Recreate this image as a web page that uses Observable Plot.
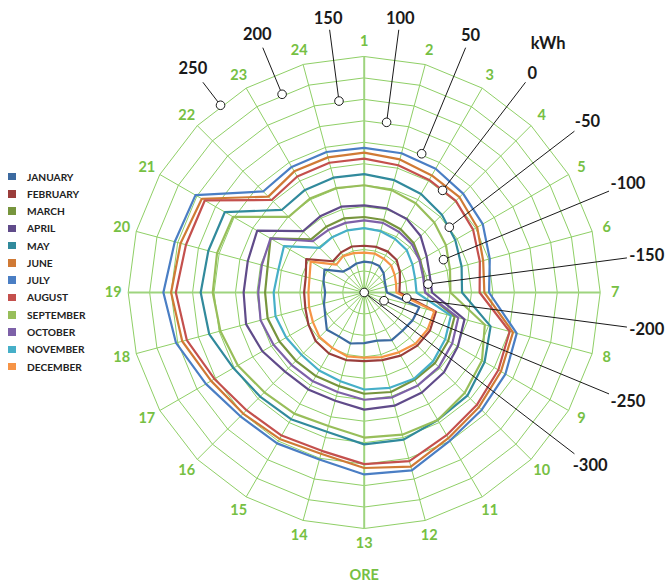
<!DOCTYPE html>
<html><head><meta charset="utf-8">
<script src="https://cdn.jsdelivr.net/npm/d3@7"></script>
<script src="https://cdn.jsdelivr.net/npm/@observablehq/plot@0.6"></script>
<style>
html,body{margin:0;padding:0;background:#fff;}
#wrap{position:relative;width:668px;height:585px;overflow:hidden;}
#legend{position:absolute;left:8px;top:168px;font-family:Lato,"Open Sans",sans-serif;font-weight:bold;font-size:10.2px;color:#222;}
#legend .row{display:flex;align-items:center;height:17.27px;}
#legend .sw{width:7.5px;height:7.5px;margin-right:11.5px;flex:none;}
</style></head><body>
<div id="wrap"><div id="chart"></div><div id="legend"></div></div>
<script>
// ---- data ----
const hours = d3.range(1, 25);
const months = ["JANUARY","FEBRUARY","MARCH","APRIL","MAY","JUNE","JULY","AUGUST","SEPTEMBER","OCTOBER","NOVEMBER","DECEMBER"];
const JANUARY   = [-228,-228,-229,-236,-245,-248,-247,-167,-170,-174,-172,-184,-182,-177,-182,-177,-195,-203,-209,-202,-193,-231,-234,-230];
const FEBRUARY  = [-191,-190,-190,-193,-204,-214,-218,-127,-123,-125,-130,-137,-140,-137,-136,-140,-150,-158,-160,-159,-144,-197,-192,-189];
const MARCH     = [-124,-125,-130,-137,-149,-156,-158,-82,-74,-67,-65,-60,-64,-74,-75,-75,-72,-67,-69,-67,-48,-125,-123,-121];
const APRIL     = [-97,-97,-102,-114,-132,-142,-142,-58,-48,-37,-31,-27,-27,-39,-39,-39,-26,-15,-19,-19,-12,-98,-95,-93];
const MAY       = [-24,-29,-35,-44,-55,-65,-72,5,24,40,43,55,54,36,41,43,52,74,81,76,75,-28,-24,-23];
const JUNE      = [26,21,15,14,4,-13,-20,59,68,78,92,120,109,89,94,99,112,139,150,143,137,16,26,26];
const JULY      = [37,36,33,26,19,3,-9,68,80,87,99,129,124,103,106,108,126,154,168,157,154,33,38,39];
const AUGUST    = [12,7,3,2,-7,-21,-31,51,61,71,84,107,100,82,85,88,103,128,139,130,129,5,12,13];
const SEPTEMBER = [-50,-53,-60,-69,-80,-93,-99,-9,17,31,43,43,38,22,26,29,40,47,53,55,53,-51,-47,-48];
const OCTOBER   = [-132,-132,-137,-142,-151,-158,-158,-73,-63,-54,-50,-47,-50,-60,-61,-61,-56,-50,-53,-53,-48,-131,-132,-132];
const NOVEMBER  = [-150,-152,-156,-160,-170,-177,-178,-91,-82,-73,-68,-70,-74,-86,-90,-94,-90,-86,-89,-93,-84,-153,-151,-150];
const DECEMBER  = [-207,-206,-209,-211,-218,-223,-225,-131,-129,-131,-139,-144,-148,-146,-151,-153,-162,-167,-170,-168,-156,-208,-202,-205];
const tickValues = [250,200,150,100,50,0,-50,-100,-150,-200,-250,-300];
const colors = ["#3C6AA0","#9A3D3B","#77953D","#604B8A","#318A9C","#D07A35","#4A7EC4","#C4504D","#98BE5A","#7D61A8","#46AFC8","#F69446"];
const seriesValues = [JANUARY,FEBRUARY,MARCH,APRIL,MAY,JUNE,JULY,AUGUST,SEPTEMBER,OCTOBER,NOVEMBER,DECEMBER];

// ---- geometry helpers ----
const W = 668, H = 585, CX = 363.7, CY = 292;
const R = d3.scaleLinear().domain([-300, 250]).range([0, 236]);
const rad = deg => deg * Math.PI / 180;
const hourAngle = h => (h - 1) * 15;
const px = (r, deg) => r * Math.sin(rad(deg));
const py = (r, deg) => r * Math.cos(rad(deg));
const outer = R(250);

const points = months.flatMap((m, i) => seriesValues[i].map((v, j) => ({month: m, hour: hours[j], value: v})));
const ringVals = tickValues.filter(t => t > -300);
const rings = ringVals.flatMap(t => hours.map(h => ({t, h})));
const axisHours = new Set([1, 7, 13, 19]);

const ticks = tickValues.map((t, i) => ({t, deg: -37.5 + 15 * i}));
const leadEnd = 265;
const labelDist = d => {
  const s = String(d.t);
  const w = s.replace("-", "").length * 8.6 + (s.includes("-") ? 5 : 0);
  const ext = Math.abs(Math.sin(rad(d.deg))) * w / 2 + Math.abs(Math.cos(rad(d.deg))) * 5.8;
  return leadEnd + 4 + ext;
};
const kwhTick = ticks.find(d => d.t === 0);

const grid = "#8fcf66";
const chart = Plot.plot({
  width: W, height: H, margin: 0,
  style: {fontFamily: "Lato, 'Open Sans', sans-serif", background: "#fff"},
  x: {domain: [-CX, W - CX], axis: null},
  y: {domain: [-(H - CY), CY], axis: null},
  color: {domain: months, range: colors},
  marks: [
    Plot.line(rings, {x: d => px(R(d.t), hourAngle(d.h)), y: d => py(R(d.t), hourAngle(d.h)), z: "t", stroke: grid, strokeWidth: 1, curve: "linear-closed"}),
    Plot.link(hours.filter(h => !axisHours.has(h)), {x1: 0, y1: 0, x2: h => px(outer, hourAngle(h)), y2: h => py(outer, hourAngle(h)), stroke: grid, strokeWidth: 1}),
    Plot.link(hours.filter(h => axisHours.has(h)), {x1: 0, y1: 0, x2: h => px(outer, hourAngle(h)), y2: h => py(outer, hourAngle(h)), stroke: "#9ed47e", strokeWidth: 2}),
    Plot.line(points, {x: d => px(R(d.value), hourAngle(d.hour)), y: d => py(R(d.value), hourAngle(d.hour)), z: "month", stroke: "month", strokeWidth: 2.2, curve: "linear-closed"}),
    Plot.link(ticks, {x1: d => px(R(d.t), d.deg), y1: d => py(R(d.t), d.deg), x2: d => px(leadEnd, d.deg), y2: d => py(leadEnd, d.deg), stroke: "#1a1a1a", strokeWidth: 1}),
    Plot.dot(ticks, {x: d => px(R(d.t), d.deg), y: d => py(R(d.t), d.deg), r: 4.3, fill: "white", stroke: "#1a1a1a", strokeWidth: 1}),
    Plot.text(ticks, {x: d => px(labelDist(d), d.deg), y: d => py(labelDist(d), d.deg), text: d => String(d.t), fontSize: 16.5, fontWeight: "bold", fill: "#1a1a1a"}),
    Plot.text([kwhTick], {x: d => px(labelDist(d) + 33, d.deg - 1), y: d => py(labelDist(d) + 33, d.deg - 1), text: () => "kWh", fontSize: 16.5, fontWeight: "bold", fill: "#1a1a1a"}),
    Plot.text(hours, {x: h => px(outer + 15, hourAngle(h)), y: h => py(outer + 15, hourAngle(h)), text: h => String(h), fontSize: 14.5, fontWeight: "bold", fill: "#76c043"}),
    Plot.text(["ORE"], {x: () => px(outer + 47, 180), y: () => py(outer + 47, 180), text: d => d, fontSize: 14.5, fontWeight: "bold", fill: "#76c043"})
  ]
});
document.getElementById("chart").append(chart);

const legend = document.getElementById("legend");
months.forEach((m, i) => {
  const row = document.createElement("div"); row.className = "row";
  const sw = document.createElement("div"); sw.className = "sw"; sw.style.background = colors[i];
  const lb = document.createElement("span"); lb.textContent = m;
  row.append(sw, lb); legend.append(row);
});
</script>
</body></html>
